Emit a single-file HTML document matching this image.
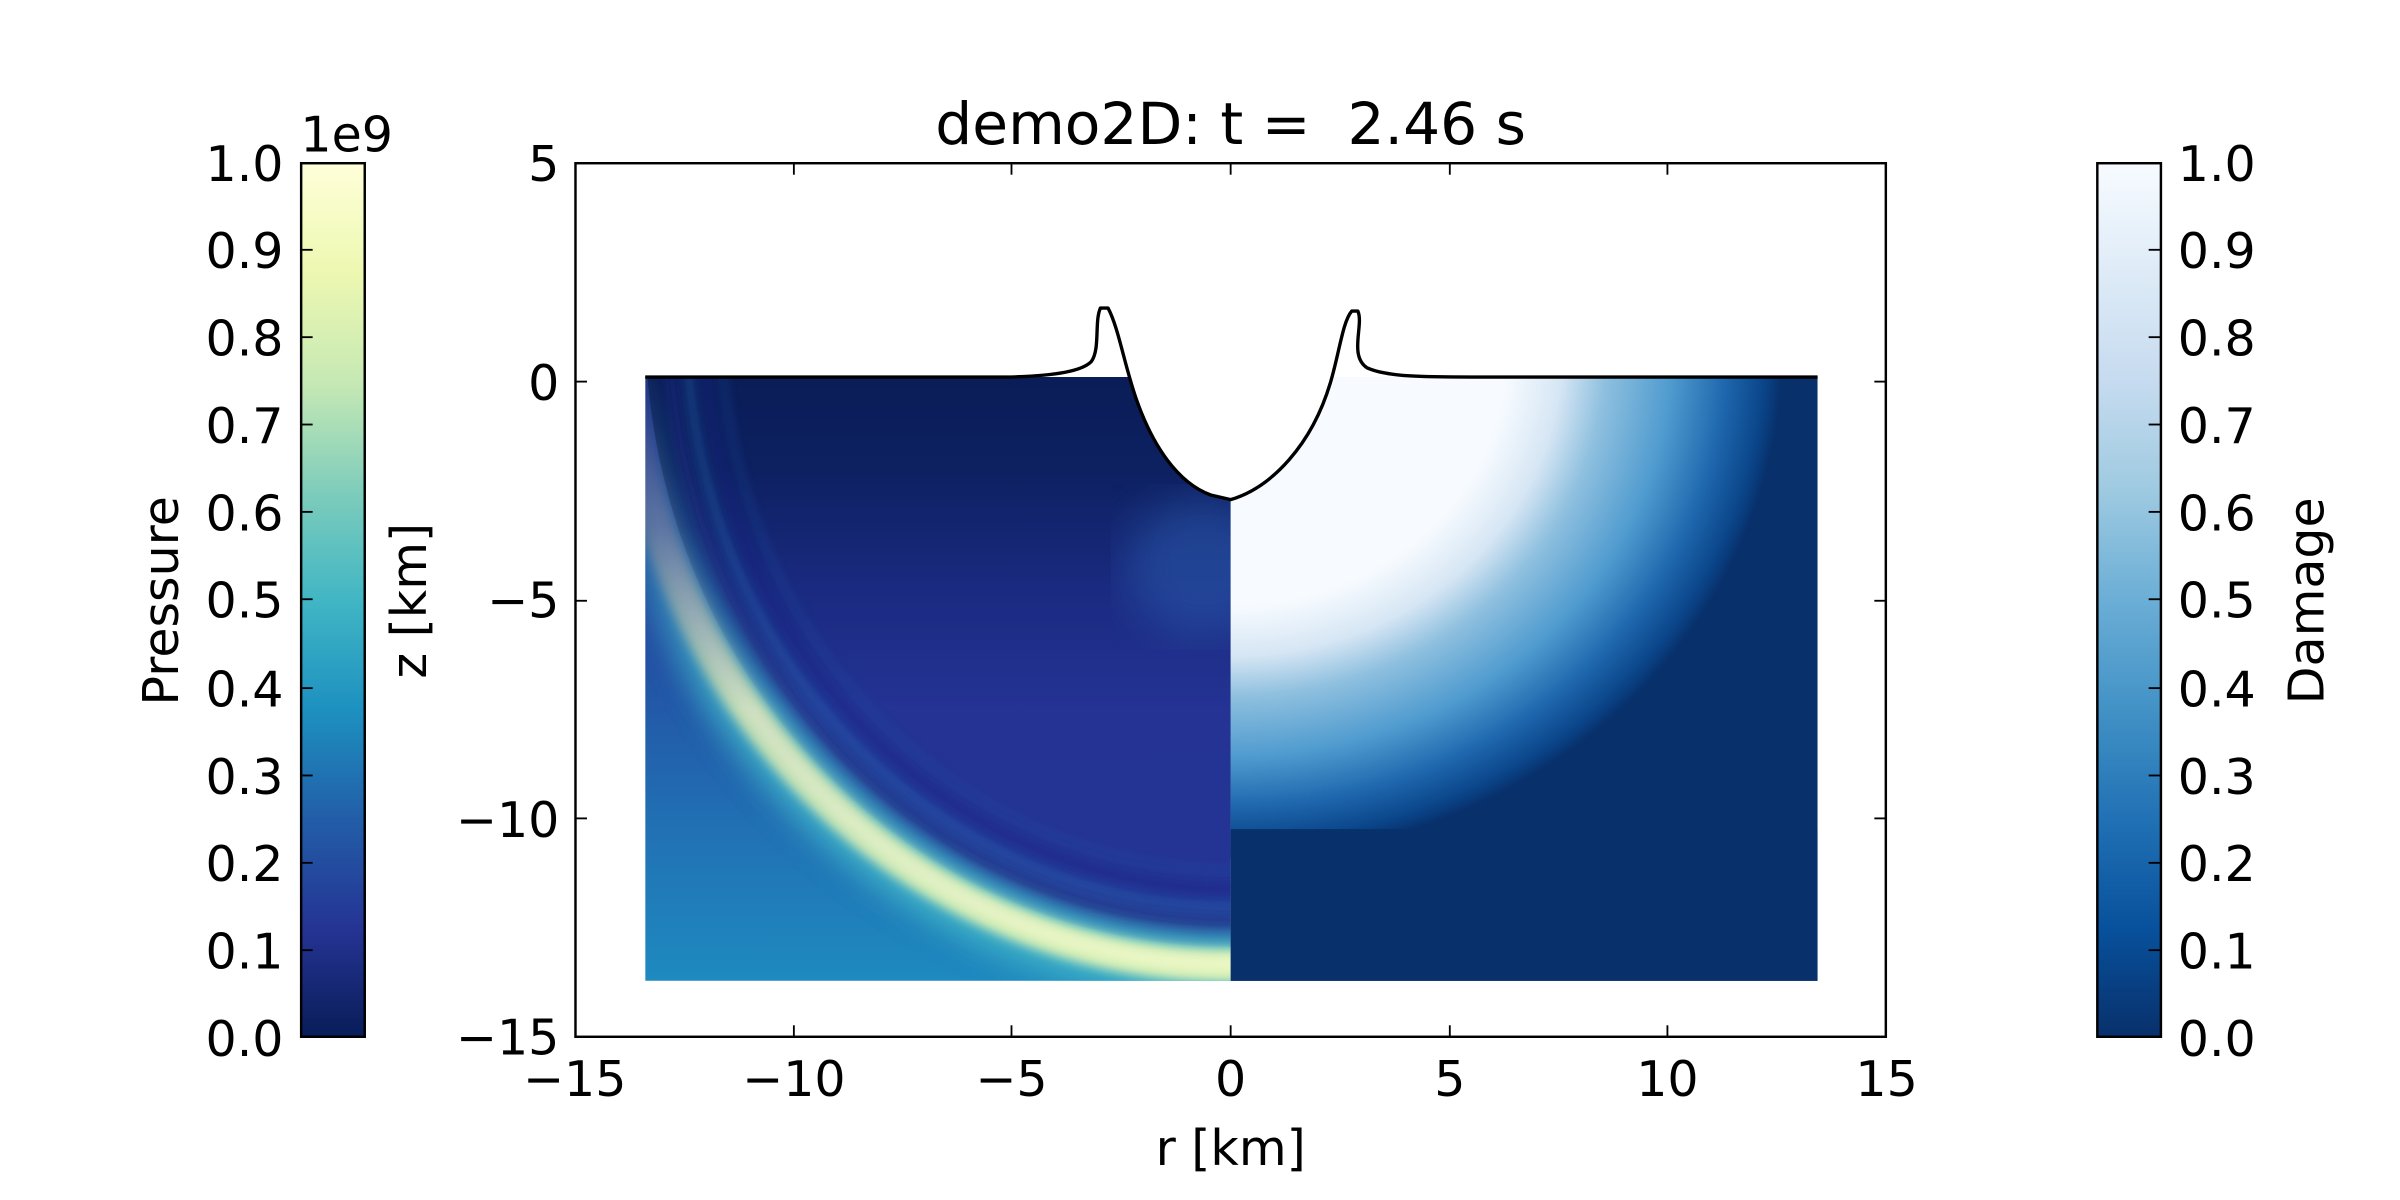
<!DOCTYPE html>
<html><head><meta charset="utf-8"><style>
html,body{margin:0;padding:0;background:#fff;}
svg{display:block;}
text{font-family:"DejaVu Sans","Liberation Sans",sans-serif;fill:#000;}
</style></head><body>
<svg width="2400" height="1200" viewBox="0 0 1566 783" preserveAspectRatio="none" xmlns="http://www.w3.org/2000/svg">
<defs>
  <linearGradient id="ylgnbu" x1="0" y1="1" x2="0" y2="0">
    <stop offset="0" stop-color="#081d58"/>
    <stop offset="0.125" stop-color="#253494"/>
    <stop offset="0.25" stop-color="#225ea8"/>
    <stop offset="0.375" stop-color="#1d91c0"/>
    <stop offset="0.5" stop-color="#41b6c4"/>
    <stop offset="0.625" stop-color="#7fcdbb"/>
    <stop offset="0.75" stop-color="#c7e9b4"/>
    <stop offset="0.875" stop-color="#edf8b1"/>
    <stop offset="1" stop-color="#ffffd9"/>
  </linearGradient>
  <linearGradient id="blues" x1="0" y1="1" x2="0" y2="0">
    <stop offset="0" stop-color="#08306b"/>
    <stop offset="0.125" stop-color="#08519c"/>
    <stop offset="0.25" stop-color="#2171b5"/>
    <stop offset="0.375" stop-color="#4292c6"/>
    <stop offset="0.5" stop-color="#6baed6"/>
    <stop offset="0.625" stop-color="#9ecae1"/>
    <stop offset="0.75" stop-color="#c6dbef"/>
    <stop offset="0.875" stop-color="#deebf7"/>
    <stop offset="1" stop-color="#f7fbff"/>
  </linearGradient>
  <linearGradient id="outer" gradientUnits="userSpaceOnUse" x1="0" y1="246" x2="0" y2="640">
    <stop offset="0" stop-color="#1c2c84"/>
    <stop offset="0.4" stop-color="#2349a0"/>
    <stop offset="0.75" stop-color="#2171b4"/>
    <stop offset="1" stop-color="#1e8abf"/>
  </linearGradient>
  <linearGradient id="inner" gradientUnits="userSpaceOnUse" x1="0" y1="246" x2="0" y2="640">
    <stop offset="0" stop-color="#0a1d58"/>
    <stop offset="0.15" stop-color="#0d2060"/>
    <stop offset="0.35" stop-color="#1a2a80"/>
    <stop offset="0.55" stop-color="#243394"/>
    <stop offset="1" stop-color="#253596"/>
  </linearGradient>
  <linearGradient id="bandfade" gradientUnits="userSpaceOnUse" x1="0" y1="246" x2="0" y2="640">
    <stop offset="0" stop-color="#fff" stop-opacity="0.05"/>
    <stop offset="0.25" stop-color="#fff" stop-opacity="0.3"/>
    <stop offset="0.55" stop-color="#fff" stop-opacity="0.85"/>
    <stop offset="1" stop-color="#fff" stop-opacity="1"/>
  </linearGradient>
  <mask id="bm"><rect x="421" y="246" width="382" height="394" fill="url(#bandfade)"/></mask>
  <radialGradient id="dmg" cx="803" cy="230" r="1" gradientUnits="userSpaceOnUse" gradientTransform="translate(803 230) scale(360 330) translate(-803 -230)">
    <stop offset="0" stop-color="#f7fbff"/>
    <stop offset="0.5" stop-color="#f7fbff"/>
    <stop offset="0.6" stop-color="#d6e6f4"/>
    <stop offset="0.68" stop-color="#8fc0df"/>
    <stop offset="0.8" stop-color="#4f9bcf"/>
    <stop offset="0.9" stop-color="#1e66ad"/>
    <stop offset="0.97" stop-color="#0a4488"/>
    <stop offset="1" stop-color="#08306b"/>
  </radialGradient>
  <clipPath id="cl"><rect x="421" y="246" width="382" height="394"/></clipPath>
  <clipPath id="cr"><rect x="803" y="246" width="383" height="394"/></clipPath>
  <filter id="b4"><feGaussianBlur stdDeviation="9"/></filter>
  <filter id="b2"><feGaussianBlur stdDeviation="3.5"/></filter>
  <filter id="b8"><feGaussianBlur stdDeviation="14"/></filter>
</defs>

<text x="803" y="94" font-size="38" text-anchor="middle" xml:space="preserve">demo2D: t =  2.46 s</text>

<g clip-path="url(#cl)">
  <rect x="421" y="246" width="382" height="394" fill="url(#outer)"/>
  <ellipse cx="803" cy="210" rx="382" ry="408" fill="url(#inner)"/>
  <ellipse cx="785" cy="370" rx="50" ry="45" fill="#2a5fae" opacity="0.5" filter="url(#b8)"/>
  <g mask="url(#bm)">
    <ellipse cx="803" cy="210" rx="394" ry="420" fill="none" stroke="#3db0c6" stroke-width="46" filter="url(#b4)"/>
    <ellipse cx="803" cy="210" rx="394" ry="420" fill="none" stroke="#d8f0b4" stroke-width="22" filter="url(#b2)"/>
    <ellipse cx="803" cy="210" rx="393" ry="419" fill="none" stroke="#f6fbcc" stroke-width="9" opacity="0.8" filter="url(#b2)"/>
  </g>
  <g opacity="0.8">
    <ellipse cx="803" cy="210" rx="366" ry="392" fill="none" stroke="#1a2680" stroke-width="5" filter="url(#b2)"/>
    <ellipse cx="803" cy="210" rx="355" ry="381" fill="none" stroke="#2260aa" stroke-width="4" filter="url(#b2)"/>
    <ellipse cx="803" cy="210" rx="344" ry="370" fill="none" stroke="#1d2884" stroke-width="4" filter="url(#b2)"/>
    <ellipse cx="803" cy="210" rx="333" ry="358" fill="none" stroke="#2452a4" stroke-width="3" opacity="0.7" filter="url(#b2)"/>
  </g>
</g>

<g clip-path="url(#cr)">
  <rect x="803" y="246" width="383" height="394" fill="#08306b"/>
  <ellipse cx="803" cy="230" rx="360" ry="330" fill="url(#dmg)"/>
  <rect x="803" y="541" width="383" height="100" fill="#08306b"/>
</g>

<path d="M421,240 L421,246 L660,246 C690,245 706,242 712,236 C718,228 714,210 718,201 L723,201 C730,214 734,240 742,262 C752,290 768,315 790,323 L803,326 C830,318 856,290 868,250 C874,230 876,210 882,203 L886,203 C890,212 880,232 892,240 C905,246 930,246 960,246 L1186,246 L1186,100 L421,100 Z" fill="#fff"/>
<path d="M421,246 L660,246 C690,245 706,242 712,236 C718,228 714,210 718,201 L723,201 C730,214 734,240 742,262 C752,290 768,315 790,323 L803,326 C830,318 856,290 868,250 C874,230 876,210 882,203 L886,203 C890,212 880,232 892,240 C905,246 930,246 960,246 L1186,246" fill="none" stroke="#000" stroke-width="2.2" stroke-linejoin="round"/>

<rect x="375.5" y="106.5" width="855" height="570" fill="none" stroke="#000" stroke-width="1.6"/>
<g stroke="#000" stroke-width="1.2">
  <line x1="518" y1="677" x2="518" y2="669"/><line x1="660" y1="677" x2="660" y2="669"/><line x1="803" y1="677" x2="803" y2="669"/><line x1="946" y1="677" x2="946" y2="669"/><line x1="1088" y1="677" x2="1088" y2="669"/>
  <line x1="518" y1="106" x2="518" y2="114"/><line x1="660" y1="106" x2="660" y2="114"/><line x1="803" y1="106" x2="803" y2="114"/><line x1="946" y1="106" x2="946" y2="114"/><line x1="1088" y1="106" x2="1088" y2="114"/>
  <line x1="375" y1="249" x2="383" y2="249"/><line x1="375" y1="392" x2="383" y2="392"/><line x1="375" y1="534" x2="383" y2="534"/>
  <line x1="1231" y1="249" x2="1223" y2="249"/><line x1="1231" y1="392" x2="1223" y2="392"/><line x1="1231" y1="534" x2="1223" y2="534"/>
</g>
<g font-size="32" text-anchor="middle">
  <text x="375" y="715">−15</text><text x="518" y="715">−10</text><text x="660" y="715">−5</text><text x="803" y="715">0</text><text x="946" y="715">5</text><text x="1088" y="715">10</text><text x="1231" y="715">15</text>
</g>
<g font-size="32" text-anchor="end">
  <text x="365" y="118">5</text><text x="365" y="261">0</text><text x="365" y="403">−5</text><text x="365" y="546">−10</text><text x="365" y="688">−15</text>
</g>
<text x="803" y="760" font-size="32" text-anchor="middle">r [km]</text>
<text transform="translate(278,392) rotate(-90)" font-size="32" text-anchor="middle">z [km]</text>

<rect x="196" y="106" width="42" height="571" fill="url(#ylgnbu)"/>
<rect x="196.5" y="106.5" width="41.5" height="570" fill="none" stroke="#000" stroke-width="1.6"/>
<g stroke="#000" stroke-width="1.2">
  <line x1="196" y1="163" x2="204" y2="163"/><line x1="196" y1="220" x2="204" y2="220"/><line x1="196" y1="277" x2="204" y2="277"/><line x1="196" y1="334" x2="204" y2="334"/><line x1="196" y1="391" x2="204" y2="391"/><line x1="196" y1="449" x2="204" y2="449"/><line x1="196" y1="506" x2="204" y2="506"/><line x1="196" y1="563" x2="204" y2="563"/><line x1="196" y1="620" x2="204" y2="620"/>
</g>
<g font-size="32" text-anchor="end">
  <text x="185" y="118">1.0</text><text x="185" y="175">0.9</text><text x="185" y="232">0.8</text><text x="185" y="289">0.7</text><text x="185" y="346">0.6</text><text x="185" y="403">0.5</text><text x="185" y="461">0.4</text><text x="185" y="518">0.3</text><text x="185" y="575">0.2</text><text x="185" y="632">0.1</text><text x="185" y="689">0.0</text>
</g>
<text x="196" y="99" font-size="32">1e9</text>
<text transform="translate(116,392) rotate(-90)" font-size="32" text-anchor="middle">Pressure</text>

<rect x="1368" y="106" width="42" height="571" fill="url(#blues)"/>
<rect x="1368.5" y="106.5" width="41.5" height="570" fill="none" stroke="#000" stroke-width="1.6"/>
<g stroke="#000" stroke-width="1.2">
  <line x1="1410" y1="163" x2="1402" y2="163"/><line x1="1410" y1="220" x2="1402" y2="220"/><line x1="1410" y1="277" x2="1402" y2="277"/><line x1="1410" y1="334" x2="1402" y2="334"/><line x1="1410" y1="391" x2="1402" y2="391"/><line x1="1410" y1="449" x2="1402" y2="449"/><line x1="1410" y1="506" x2="1402" y2="506"/><line x1="1410" y1="563" x2="1402" y2="563"/><line x1="1410" y1="620" x2="1402" y2="620"/>
</g>
<g font-size="32" text-anchor="start">
  <text x="1421" y="118">1.0</text><text x="1421" y="175">0.9</text><text x="1421" y="232">0.8</text><text x="1421" y="289">0.7</text><text x="1421" y="346">0.6</text><text x="1421" y="403">0.5</text><text x="1421" y="461">0.4</text><text x="1421" y="518">0.3</text><text x="1421" y="575">0.2</text><text x="1421" y="632">0.1</text><text x="1421" y="689">0.0</text>
</g>
<text transform="translate(1516,392) rotate(-90)" font-size="32" text-anchor="middle">Damage</text>
</svg>
</body></html>
